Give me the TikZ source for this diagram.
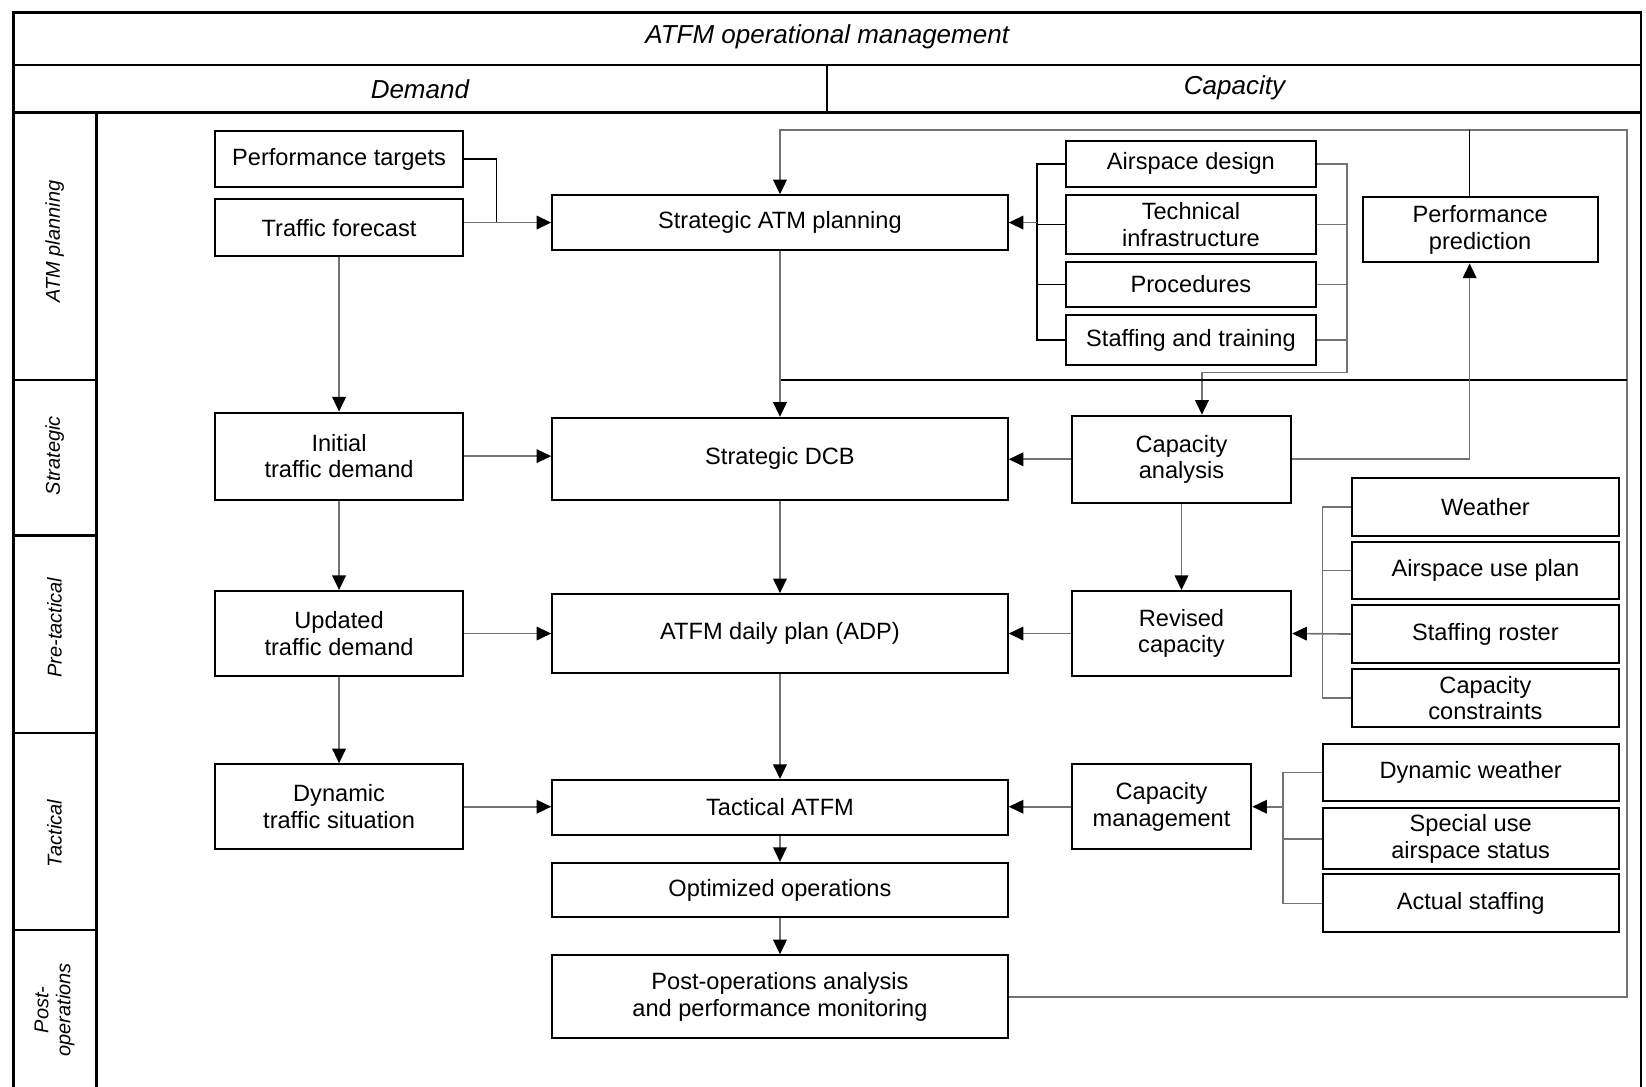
\documentclass[tikz,border=0pt]{standalone}
\usepackage{fontspec}
\setmainfont{Liberation Sans}
\usetikzlibrary{arrows.meta,calc}
\newcommand\bx[6]{\node[box,minimum width={(#4-#2)*0.52486pt},minimum height={(#5-#3)*0.52486pt}] (#1) at ({(#2+#4)/2},{(#3+#5)/2}) {#6};}
\begin{document}
\begin{tikzpicture}[x=0.52486pt,y=-0.52486pt,
 box/.style={draw,line width=1pt,inner sep=0pt,align=center,font=\fontsize{11.8}{13.2}\selectfont},
 conn/.style={line width=0.8pt,draw=black!55},
 blk/.style={line width=0.8pt,draw=black},
 arr/.style={conn,-{Triangle[length=7.3pt,width=6.8pt,color=black]}},
 frame/.style={line width=1.2pt},
 lane/.style={rotate=90,font=\fontsize{10}{11}\selectfont\itshape,align=center},
 head/.style={font=\fontsize{13}{15}\selectfont\itshape}]
\useasboundingbox[fill=white] (0,0) rectangle (1568,1035);
% frame
\draw[frame] (13,1040) -- (13,12) -- (1563,12) -- (1563,1040);
\draw[frame] (13,62) -- (1563,62);
\draw[frame] (13,107) -- (1563,107);
\draw[frame] (788,62) -- (788,107);
\draw[frame] (92,107) -- (92,1040);
\foreach \yy in {362,510,698,886} \draw[frame] (13,\yy) -- (92,\yy);
% headers
\node[head] (h0) at (788,35) {ATFM operational management};
\node[head] (h1) at (400,85) {Demand};
\node[head] (h2) at (1176,84) {Capacity};
% lanes
\node[lane] (l1) at (52,230) {ATM planning};
\node[lane] (l2) at (52,434) {Strategic};
\node[lane] (l3) at (52,598) {Pre-tactical};
\node[lane] (l4) at (52,794) {Tactical};
\node[lane] (l5) at (52,962) {Post-\\operations};
% boxes
\bx{pt}{205}{125}{441}{178}{Performance targets}
\bx{tf}{205}{190}{441}{244}{Traffic forecast}
\bx{sap}{526}{186}{960}{238}{Strategic ATM planning}
\bx{ad}{1015}{134}{1254}{178}{Airspace design}
\bx{ti}{1015}{186}{1254}{242}{Technical\\infrastructure}
\bx{pr}{1015}{250}{1254}{292}{Procedures}
\bx{st}{1015}{300}{1254}{348}{Staffing and training}
\bx{pp}{1298}{188}{1522}{250}{Performance\\prediction}
\bx{itd}{205}{393}{441}{476}{Initial\\traffic demand}
\bx{sdcb}{526}{398}{960}{476}{Strategic DCB}
\bx{ca}{1021}{396}{1230}{479}{Capacity\\analysis}
\bx{we}{1288}{455}{1542}{511}{Weather}
\bx{aup}{1288}{516}{1542}{571}{Airspace use plan}
\bx{sr}{1288}{576}{1542}{632}{Staffing roster}
\bx{cc}{1288}{637}{1542}{693}{Capacity\\constraints}
\bx{utd}{205}{563}{441}{644}{Updated\\traffic demand}
\bx{adp}{526}{566}{960}{641}{ATFM daily plan (ADP)}
\bx{rc}{1021}{563}{1230}{644}{Revised\\capacity}
\bx{dw}{1260}{709}{1542}{763}{Dynamic weather}
\bx{sua}{1260}{770}{1542}{828}{Special use\\airspace status}
\bx{as}{1260}{833}{1542}{888}{Actual staffing}
\bx{dts}{205}{728}{441}{809}{Dynamic\\traffic situation}
\bx{ta}{526}{743}{960}{795}{Tactical ATFM}
\bx{cm}{1021}{728}{1192}{809}{Capacity\\management}
\bx{oo}{526}{822}{960}{874}{Optimized operations}
\bx{po}{526}{910}{960}{989}{Post-operations analysis\\and performance monitoring}
% coordinates
\coordinate (j1) at (473,0);
\coordinate (lb) at (988,0);
\coordinate (rb) at (1283,0);
\coordinate (rbb) at (1283,355);
\coordinate (cain) at (1145,355);
\coordinate (fb1) at (1550,124);
\coordinate (fb3) at (1550,362);
\coordinate (wb) at (1260,0);
\coordinate (db) at (1222,0);
\coordinate (ppx) at (1400,0);
% top row
\draw[blk] (pt.east) -| (j1 |- sap.west);
\draw[arr] (tf.east |- sap.west) -- (sap.west);
\draw[blk] (ad.west) -| (lb |- st.west) -- (st.west);
\draw[blk] (ti.west) -- (ti.west -| lb);
\draw[blk] (pr.west) -- (pr.west -| lb);
\draw[arr] (lb |- sap.east) -- (sap.east);
\draw[conn] (ti.east) -- (ti.east -| rb);
\draw[conn] (pr.east) -- (pr.east -| rb);
\draw[conn] (st.east) -- (st.east -| rb);
\draw[arr] (ad.east) -| (rbb) -- (cain) -- (cain |- ca.north);
% feedback
\draw[arr] (po.east) -| (fb1) -- (sap.north |- fb1) -- (sap.north);
\draw[blk] (fb3) -- (sap.south |- fb3);
\draw[blk] (ppx |- pp.north) -- (ppx |- fb1);
\draw[arr] (ca.east) -| (ppx |- pp.south);
% verticals
\draw[arr] (tf.south) -- (itd.north);
\draw[arr] (sap.south) -- (sdcb.north);
\draw[arr] (itd.south) -- (utd.north);
\draw[arr] (sdcb.south) -- (adp.north);
\draw[arr] (ca.south) -- (rc.north);
\draw[arr] (utd.south) -- (dts.north);
\draw[arr] (adp.south) -- (ta.north);
\draw[arr] (ta.south) -- (oo.north);
\draw[arr] (oo.south) -- (po.north);
% horizontals
\draw[arr] (itd.east) -- (itd.east -| sdcb.west);
\draw[arr] (ca.west) -- (ca.west -| sdcb.east);
\draw[arr] (utd.east) -- (utd.east -| adp.west);
\draw[arr] (rc.west) -- (rc.west -| adp.east);
\draw[arr] (dts.east) -- (dts.east -| ta.west);
\draw[arr] (cm.west) -- (cm.west -| ta.east);
% weather bracket
\draw[conn] (we.west) -| (wb |- cc.west) -- (cc.west);
\draw[conn] (aup.west) -- (aup.west -| wb);
\draw[arr] (sr.west) -- (rc.east);
% dynamic bracket
\draw[conn] (dw.west) -| (db |- as.west) -- (as.west);
\draw[conn] (sua.west) -- (sua.west -| db);
\draw[arr] (db |- cm.east) -- (cm.east);
\end{tikzpicture}
\end{document}
